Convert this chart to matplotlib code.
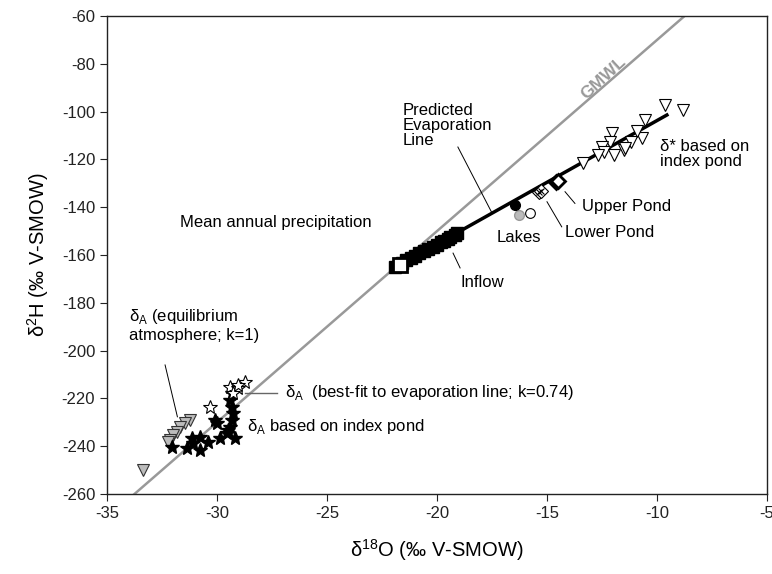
import numpy as np
import matplotlib
matplotlib.use("Agg")
import matplotlib.pyplot as plt

plt.rcParams['font.family'] = ['Liberation Sans', 'DejaVu Sans']
plt.rcParams['mathtext.fontset'] = 'custom'
plt.rcParams['mathtext.rm'] = 'Liberation Sans'
plt.rcParams['axes.unicode_minus'] = False

# Inflow (filled squares) and mean annual precipitation (open square)
inflow_x = [-21.9, -21.6, -21.4, -21.2, -21.0, -20.8, -20.6, -20.4, -20.2, -20.0,
            -19.8, -19.7, -19.5, -19.4, -19.2, -19.1]
inflow_y = [-165.0, -163.2, -162.0, -161.2, -160.4, -159.3, -158.5, -157.6, -156.5, -155.8,
            -154.7, -154.0, -153.2, -152.6, -151.5, -150.8]
precip_x = [-21.7]
precip_y = [-164.2]

# Lakes
lake_grey_x = [-16.27]
lake_grey_y = [-143.3]
lake_open_x = [-15.77]
lake_open_y = [-142.4]
lake_black_x = [-16.45]
lake_black_y = [-139.1]

# Ponds
lower_x = [-15.35, -15.25]
lower_y = [-133.8, -133.2]
upper_x = [-14.6, -14.5]
upper_y = [-129.6, -129.0]

# delta* based on index pond (open triangles)
dstar_x = [-9.64, -8.8, -10.55, -10.7, -12.06, -12.14, -12.5, -12.4, -11.5, -12.67,
           -11.97, -13.35, -11.2, -11.45, -10.9]
dstar_y = [-97.2, -99.3, -103.5, -111.2, -109.1, -112.6, -114.7, -116.8, -116.1, -118.2,
           -118.2, -121.6, -112.6, -115.4, -108.0]

# delta_A equilibrium atmosphere (grey triangles)
eq_x = [-31.23, -31.45, -31.68, -31.83, -31.99, -32.14, -32.21, -33.35]
eq_y = [-229.0, -230.4, -231.8, -233.9, -235.3, -237.4, -238.1, -249.9]

# delta_A based on index pond (black stars)
idx_x = [-30.09, -30.02, -29.33, -29.26, -29.33, -29.41, -29.49, -29.56, -29.18, -29.86,
         -30.4, -30.77, -31.15, -31.38, -30.77, -32.06, -31.08, -29.41, -29.33]
idx_y = [-229.0, -230.4, -223.5, -226.2, -229.0, -231.8, -233.2, -234.6, -236.7, -236.7,
         -238.1, -236.0, -236.7, -240.9, -241.6, -240.2, -238.8, -220.7, -217.9]

# delta_A best fit (open stars)
fit_x = [-28.73, -29.41, -29.03, -29.26, -30.32, -29.03]
fit_y = [-213.0, -215.1, -215.8, -217.9, -223.5, -214.4]

# evaporation line end points
evap_x = [-21.7, -9.55]
evap_y = [-164.2, -101.4]
pred_x = [-20.0, -16.6]
pred_y = [-157.4, -141.0]

fig = plt.figure(figsize=(7.72, 5.74), dpi=100)
ax = fig.add_axes([0.1386, 0.1394, 0.8549, 0.8326])

# GMWL
gx = np.array([-35.0, -5.0])
ax.plot(gx, 8 * gx + 10, color='#999999', lw=1.8, zorder=1)
ax.text(-12.45, -86, 'GMWL', color='#999999', fontsize=12.5, fontweight='bold',
        rotation=42.5, ha='center', va='center', rotation_mode='anchor')

ax.plot(evap_x, evap_y, color='black', lw=2.5, zorder=3)
ax.plot(pred_x, pred_y, color='white', lw=0.8, ls=(0, (6, 3)), zorder=4)

ax.plot(inflow_x, inflow_y, 's', color='black', ms=9, zorder=5)
ax.plot(precip_x, precip_y, 's', mfc='white', mec='black', mew=2, ms=10, zorder=6)

ax.plot(lake_grey_x, lake_grey_y, 'o', mfc='#bbbbbb', mec='#999999', ms=7, zorder=5)
ax.plot(lake_open_x, lake_open_y, 'o', mfc='white', mec='black', mew=0.8, ms=7, zorder=5)
ax.plot(lake_black_x, lake_black_y, 'o', color='black', ms=7, zorder=5)

ax.plot(lower_x, lower_y, 'D', mfc='white', mec='black', mew=0.8, ms=7, zorder=5)
ax.plot(lower_x, lower_y, 'x', color='black', mew=0.8, ms=5, zorder=6)
ax.plot(upper_x, upper_y, 'D', mfc='white', mec='black', mew=2, ms=7, zorder=5)

ax.plot(dstar_x, dstar_y, 'v', mfc='white', mec='black', mew=0.8, ms=9, zorder=5)

ax.plot(eq_x, eq_y, 'v', mfc='#bbbbbb', mec='#333333', mew=0.8, ms=9, zorder=5)
ax.plot(idx_x, idx_y, '*', color='black', ms=10.5, zorder=5)
ax.plot(fit_x, fit_y, '*', mfc='white', mec='black', mew=0.8, ms=10.5, zorder=6)

# annotations
fs = 12
ax.text(-21.55, -96.5, 'Predicted\nEvaporation\nLine', fontsize=fs, va='top',
        ha='left', linespacing=1.0)
ax.plot([-19.05, -17.5], [-114.8, -142.4], color='black', lw=0.7)
ax.text(-31.7, -146.2, 'Mean annual precipitation', fontsize=fs, va='center')
ax.text(-18.95, -171.3, 'Inflow', fontsize=fs, va='center')
ax.plot([-19.27, -18.95], [-159.2, -165.4], color='black', lw=0.7)
ax.text(-17.27, -152.5, 'Lakes', fontsize=fs, va='center')
ax.text(-14.18, -150.4, 'Lower Pond', fontsize=fs, va='center')
ax.plot([-15.0, -14.33], [-137.7, -148.2], color='black', lw=0.7)
ax.text(-13.41, -139.9, 'Upper Pond', fontsize=fs, va='center')
ax.plot([-14.18, -13.73], [-133.5, -138.4], color='black', lw=0.7)
ax.text(-9.86, -111.5, 'δ* based on\nindex pond', fontsize=fs, va='top',
        ha='left', linespacing=1.0)
ax.text(-34.0, -189.3, 'δ$_{\\rm A}$ (equilibrium\natmosphere; k=1)', fontsize=fs,
        va='center', ha='left', linespacing=1.15)
ax.plot([-32.36, -31.8], [-206.0, -227.7], color='black', lw=0.7)
ax.text(-26.9, -217.7, 'δ$_{\\rm A}$  (best-fit to evaporation line; k=0.74)',
        fontsize=fs, va='center', ha='left')
ax.plot([-28.73, -27.29], [-217.9, -217.9], color='#666666', lw=1.0)
ax.text(-28.65, -231.8, 'δ$_{\\rm A}$ based on index pond', fontsize=fs,
        va='center', ha='left')

ax.set_xlim(-35, -5)
ax.set_ylim(-260, -60)
ax.set_xticks(np.arange(-35, -4, 5))
ax.set_yticks(np.arange(-260, -59, 20))
ax.tick_params(direction='out', length=5, labelsize=12, colors='#222222')
for s in ax.spines.values():
    s.set_color('#222222')
    s.set_linewidth(1.0)
ax.set_xlabel('δ$^{18}$O (‰ V-SMOW)', fontsize=14.5, labelpad=12)
ax.set_ylabel('δ$^{2}$H (‰ V-SMOW)', fontsize=14.5, labelpad=8)

fig.savefig('out.png', dpi=100)
